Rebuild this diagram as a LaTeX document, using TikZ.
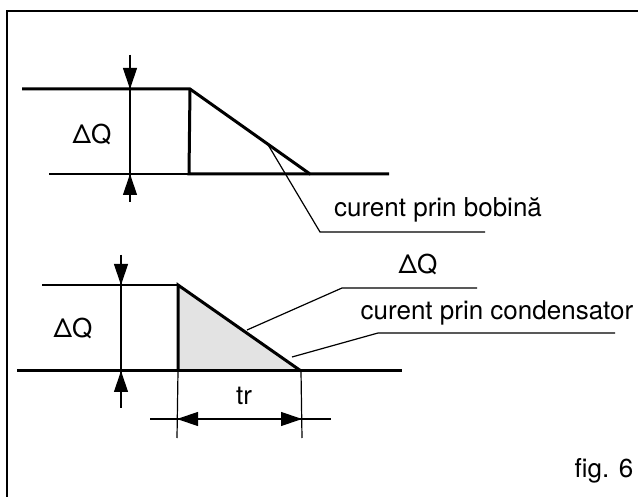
\documentclass[tikz,border=0pt]{standalone}
\usepackage{fontspec}
\setmainfont{TeX Gyre Heros}
\usetikzlibrary{arrows.meta, positioning}

\begin{document}
\begin{tikzpicture}[x=1pt, y=-1pt,
    signal/.style={line width=3pt},
    helper/.style={line width=1.2pt},
    dimtip/.style={helper, -{Triangle[length=21pt,width=14pt]}},
    lbl/.style={font=\fontsize{26}{30}\selectfont, inner sep=0pt, anchor=base}]
  \useasboundingbox (0,0) rectangle (638,497);
  \draw[helper] (7,497) -- (7,11) -- (638,11);

  % upper curve: current through the coil
  \coordinate (bL) at (22,89);
  \coordinate (bT) at (190,89);
  \coordinate (bB) at (189,174);
  \coordinate (bE) at (310,174);
  \coordinate (bR) at (389,174);
  \coordinate (bRef) at (49,174);
  \draw[signal] (bL) -- (bT) -- (bE) -- (bR);
  \draw[signal] (bT |- bL) -- (bB) -- (bE);
  \draw[helper] (bRef) -- (bB);

  \coordinate (dq1a) at (130,55);
  \coordinate (dq1b) at (130,202);
  \draw[helper] (dq1a) -- (dq1b);
  \draw[dimtip] (dq1a) -- (dq1a |- bL);
  \draw[dimtip] (dq1b) -- (dq1b |- bB);
  \node[lbl] (dqA) at (92,144) {ΔQ};

  \coordinate (bobPt) at (267,143);
  \coordinate (bobK) at (320,232);
  \coordinate (bobEnd) at (485,232);
  \draw[helper] (bobPt) -- (bobK) -- (bobEnd);
  \node[lbl] (bobina) at (438,217) {curent prin bobină};

  % lower curve: current through the capacitor
  \coordinate (cL) at (17,371);
  \coordinate (cT) at (178,285);
  \coordinate (cB) at (178,371);
  \coordinate (cE) at (301,371);
  \coordinate (cR) at (402,371);
  \coordinate (cRef) at (42,285);
  \fill[gray!22] (cT) -- (cB) -- (cE) -- cycle;
  \draw[helper] (cRef) -- (cT);
  \draw[signal] (cL) -- (cR);
  \draw[signal] (cB) -- (cT) -- (cE);

  \coordinate (dq2a) at (121,255);
  \coordinate (dq2b) at (121,408);
  \draw[helper] (dq2a) -- (dq2b);
  \draw[dimtip] (dq2a) -- (dq2a |- cT);
  \draw[dimtip] (dq2b) -- (dq2b |- cB);
  \node[lbl] (dqB) at (73,338) {ΔQ};

  % rise time
  \coordinate (trL) at (177,438);
  \coordinate (trR) at (302,438);
  \draw[helper] (cB) -- (trL);
  \draw[helper] (cE) -- (trR);
  \coordinate (trA) at (150,419);
  \coordinate (trB) at (331,419);
  \draw[helper] (trA) -- (trB);
  \coordinate (trM) at (240,419);
  \draw[dimtip] (trM) -- (trM -| trL);
  \draw[dimtip] (trM) -- (trM -| trR);
  \node[lbl] (tr) at (244,404) {tr};

  \coordinate (dqPt) at (247,330);
  \coordinate (dqK) at (342,288);
  \coordinate (dqEnd) at (477,288);
  \draw[helper] (dqPt) -- (dqK) -- (dqEnd);
  \node[lbl] (dqC) at (418,274) {ΔQ};

  \coordinate (conPt) at (292,357);
  \coordinate (conK) at (378,333);
  \coordinate (conEnd) at (615,333);
  \draw[helper] (conPt) -- (conK) -- (conEnd);
  \node[lbl] (cond) at (497,320) {curent prin condensator};

  \node[lbl] (fig) at (604,477) {fig. 6};
\end{tikzpicture}
\end{document}
